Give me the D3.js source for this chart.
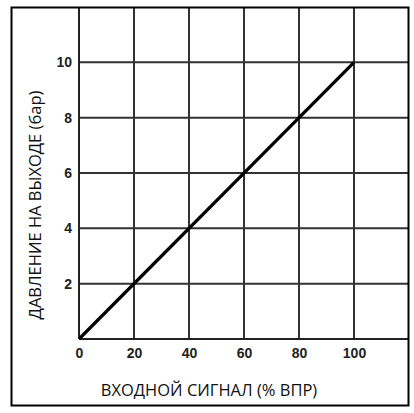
<!DOCTYPE html>
<html>
<head>
<meta charset="utf-8">
<script src="https://cdn.jsdelivr.net/npm/d3@7"></script>
<style>
  body { margin: 0; background: #fff; }
  .tick text { font-family: "Liberation Sans", Arial, sans-serif; font-weight: bold; font-size: 14px; fill: #222; }
  .title { font-family: "Open Sans", "Noto Sans", sans-serif; font-size: 16.5px; fill: #111; }
</style>
</head>
<body>
<div id="chart"></div>
<script>
// ticks and the line through (0,0) -> (100,10)
let xTicks = [0, 20, 40, 60, 80, 100];
let yTicks = [2, 4, 6, 8, 10];
let xGrid = [20, 40, 60, 80, 100];
let yGrid = [2, 4, 6, 8, 10];
let signal = [0, 100];
let pressure = [0, 10];

let width = 414, height = 413;
let plot = {left: 79, top: 7, right: 409, bottom: 339};

let svg = d3.select("#chart").append("svg")
    .attr("width", width)
    .attr("height", height);

let x = d3.scaleLinear().domain([0, 120]).range([plot.left, plot.right]);
let y = d3.scaleLinear().domain([0, 12]).range([plot.bottom, plot.top]);

// grid lines
svg.selectAll(".vgrid")
    .data(xGrid)
    .enter().append("line")
    .attr("x1", d => x(d)).attr("x2", d => x(d))
    .attr("y1", y(0)).attr("y2", y(12))
    .style("stroke", "#333")
    .style("stroke-width", 2);

svg.selectAll(".hgrid")
    .data(yGrid)
    .enter().append("line")
    .attr("x1", x(0)).attr("x2", x(120))
    .attr("y1", d => y(d)).attr("y2", d => y(d))
    .style("stroke", "#333")
    .style("stroke-width", 2);

// axes (only labels, lines drawn separately)
let xAxis = svg.append("g")
    .attr("transform", "translate(0," + plot.bottom + ")")
    .call(d3.axisBottom(x).tickValues(xTicks).tickSize(0).tickPadding(9));
xAxis.select(".domain").remove();

let yAxis = svg.append("g")
    .attr("transform", "translate(" + plot.left + ",0)")
    .call(d3.axisLeft(y).tickValues(yTicks).tickSize(0).tickPadding(7));
yAxis.select(".domain").remove();

// axis lines
svg.append("line")
    .attr("x1", x(0)).attr("x2", x(120))
    .attr("y1", y(0)).attr("y2", y(0))
    .style("stroke", "#222").style("stroke-width", 2);
svg.append("line")
    .attr("x1", x(0)).attr("x2", x(0))
    .attr("y1", y(0)).attr("y2", y(12))
    .style("stroke", "#222").style("stroke-width", 2);

// data line
let line = d3.line()
    .x((d, i) => x(signal[i]))
    .y((d, i) => y(pressure[i]));
svg.append("path")
    .datum(signal)
    .attr("d", line)
    .style("fill", "none")
    .style("stroke", "#000")
    .style("stroke-width", 3.2);

// outer frame
svg.append("rect")
    .attr("x", 11.5).attr("y", 7.5)
    .attr("width", 397).attr("height", 398)
    .style("fill", "none")
    .style("stroke", "#000")
    .style("stroke-width", 2);

// titles
svg.append("text")
    .attr("class", "title")
    .attr("x", 209).attr("y", 396)
    .attr("text-anchor", "middle")
    .text("ВХОДНОЙ СИГНАЛ (% ВПР)");

svg.append("text")
    .attr("class", "title")
    .attr("transform", "translate(41,205) rotate(-90)")
    .attr("text-anchor", "middle")
    .text("ДАВЛЕНИЕ НА ВЫХОДЕ (бар)");
</script>
</body>
</html>
